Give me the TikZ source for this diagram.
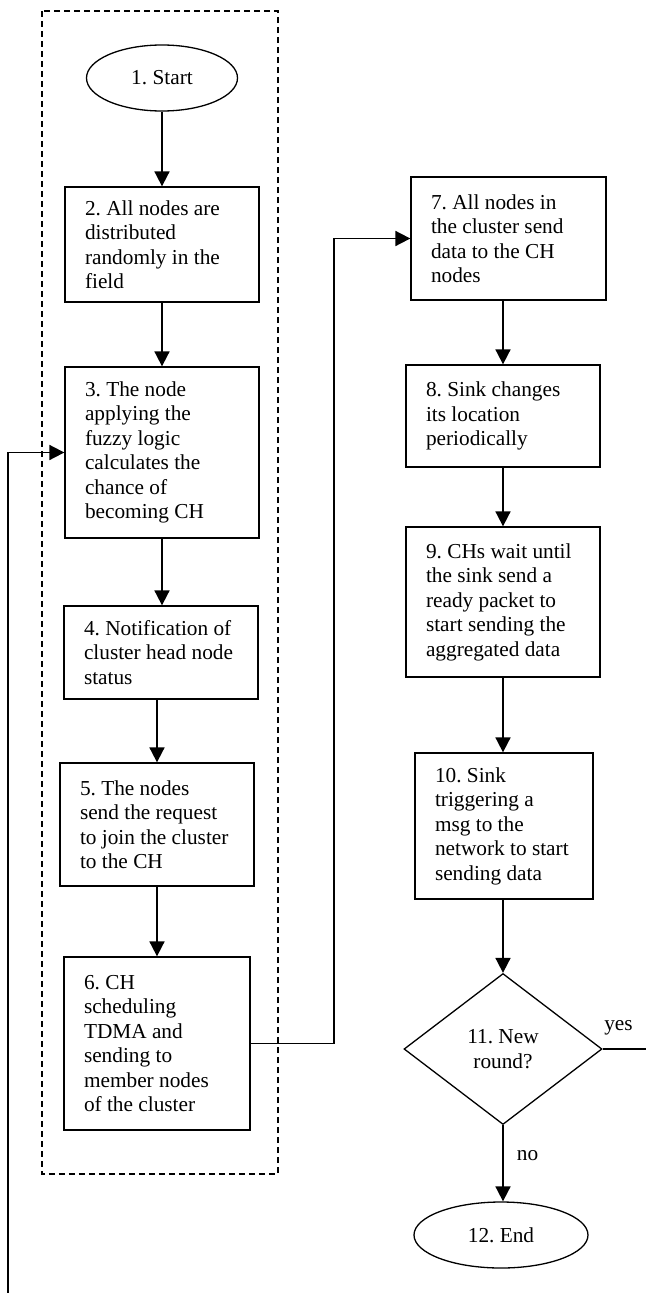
\documentclass[tikz,border=0pt]{standalone}
\usepackage{fontspec}
\setmainfont{Liberation Serif}
\usepackage{tikz}
\usetikzlibrary{arrows.meta,shapes.geometric}
\tikzset{
  txt/.style ={font=\fontsize{21.3}{24.5}\selectfont\frenchspacing},
  stp/.style ={draw, line width=1.3pt, txt, align=flush left, inner xsep=20pt, inner ysep=0pt},
  term/.style={draw, ellipse, line width=1.3pt, txt, inner sep=0pt},
  dec/.style ={draw, diamond, line width=1.3pt, txt, align=center, inner sep=0pt},
  ar/.style  ={-{Triangle[length=15pt,width=15pt]}, line width=1.8pt},
  ln/.style  ={line width=1.3pt},
  grp/.style ={draw, dash pattern=on 6pt off 4pt, line width=1.3pt},
  lbl/.style ={txt, inner sep=0pt},
}

\begin{document}
\begin{tikzpicture}[x=1pt,y=-1pt]
\useasboundingbox (0,0) rectangle (646,1293);
\draw[grp] (42,11) rectangle (278,1174);
\node[term, minimum width=151pt, minimum height=66pt] (start) at (162,78) {1. Start};
\node[stp, text width=154pt, minimum height=115pt] (b2) at (162,244.5)
     {2. All nodes are\\distributed\\randomly in the\\field};
\node[stp, text width=154pt, minimum height=171pt] (b3) at (162,452.5)
     {3. The node\\applying the\\fuzzy logic\\calculates the\\chance of\\becoming CH};
\node[stp, text width=154pt, minimum height=93pt] (b4) at (161,652.5)
     {4. Notification of\\cluster head node\\status};
\node[stp, text width=154pt, minimum height=123pt] (b5) at (157,824.5)
     {5. The nodes\\send the request\\to join the cluster\\to the CH};
\node[stp, text width=146pt, minimum height=173pt] (b6) at (157,1043.5)
     {6. CH\\scheduling\\TDMA and\\sending to\\member nodes\\of the cluster};
\node[stp, text width=155pt, minimum height=123pt] (b7) at (508.5,238.5)
     {7. All nodes in\\the cluster send\\data to the CH\\nodes};
\node[stp, text width=154pt, minimum height=102pt] (b8) at (503,416)
     {8. Sink changes\\its location\\periodically};
\node[stp, text width=154pt, minimum height=150pt] (b9) at (503,602)
     {9. CHs wait until\\the sink send a\\ready packet to\\start sending the\\aggregated data};
\node[stp, text width=138pt, minimum height=146pt] (b10) at (504,826)
     {10. Sink\\triggering a\\msg to the\\network to start\\sending data};
\node[dec, minimum width=198pt, minimum height=151pt] (d11) at (503,1049) {11. New\\round?};
\node[term, minimum width=174pt, minimum height=66pt] (end) at (501,1235) {12. End};
\coordinate (back) at (8,1293);
\coordinate (yes) at (646,1049);

\draw[ar] (start) -- (b2);
\draw[ar] (b2) -- (b3);
\draw[ar] (b3.south) -- (b3.south |- b4.north);
\draw[ar] (b4.south -| b5.north) -- (b5.north);
\draw[ar] (b5) -- (b6);
\draw[ar] (b6.east) -- ++(83,0) |- (b7.west);
\draw[ar] (b7.south -| b8.north) -- (b8.north);
\draw[ar] (b8) -- (b9);
\draw[ar] (b9.south) -- (b9.south |- b10.north);
\draw[ar] (b10.south -| d11.north) -- (d11.north);
\draw[ar] (d11.south) -- node[lbl, pos=0.4, anchor=west, xshift=13pt] {no} (d11.south |- end.north);
\draw[ln] (d11.east) -- node[lbl, at start, anchor=west, xshift=1pt, yshift=21pt] {yes} (yes);
\draw[ar] (back) |- (b3.west);
\end{tikzpicture}
\end{document}
